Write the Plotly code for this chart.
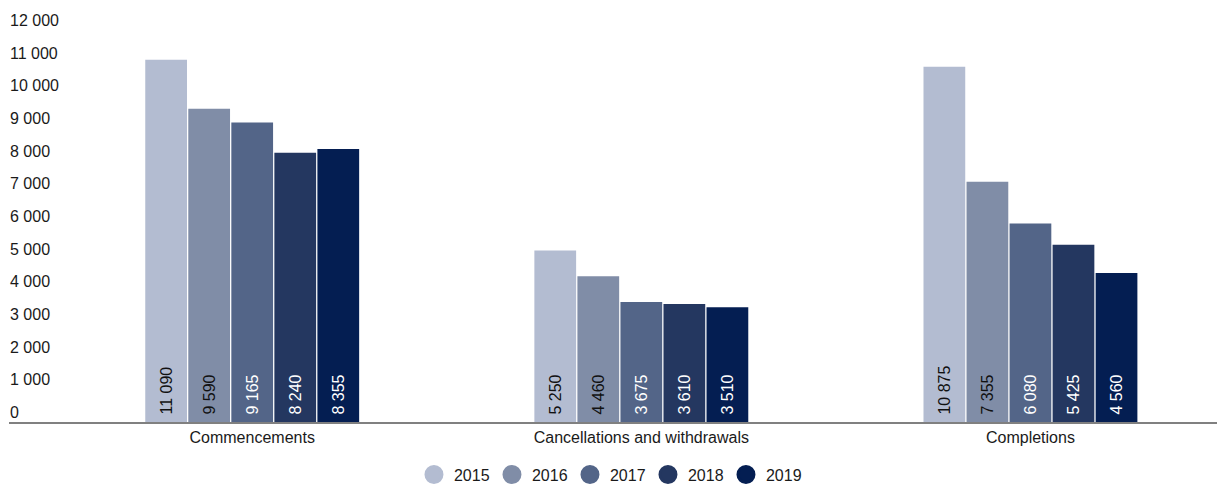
import plotly.graph_objects as go

categories = ["Commencements", "Cancellations and withdrawals", "Completions"]
years = ["2015", "2016", "2017", "2018", "2019"]
v2015 = [11090, 5250, 10875]
v2016 = [9590, 4460, 7355]
v2017 = [9165, 3675, 6080]
v2018 = [8240, 3610, 5425]
v2019 = [8355, 3510, 4560]
series = [v2015, v2016, v2017, v2018, v2019]
y_ticks = [0, 1000, 2000, 3000, 4000, 5000, 6000, 7000, 8000, 9000, 10000, 11000, 12000]
colors = ["#b3bcd1", "#808da7", "#536588", "#243760", "#041e52"]
label_colors = ["#111111", "#111111", "#ffffff", "#ffffff", "#ffffff"]

FONT = "Arial, Liberation Sans, sans-serif"
TXT = "#1a1a1a"

fig = go.Figure()
for yr, vals, c, lc in zip(years, series, colors, label_colors):
    fig.add_trace(go.Bar(
        x=categories, y=vals, name=yr, marker=dict(color=c, line=dict(width=0)),
        texttemplate="\u00a0%{y:,}", textposition="inside",
        insidetextanchor="start", textangle=-90,
        insidetextfont=dict(color=lc, size=16, family=FONT),
        showlegend=False, hoverinfo="skip",
    ))
for yr, c in zip(years, colors):
    fig.add_trace(go.Scatter(
        x=[None], y=[None], mode="markers", name=yr,
        marker=dict(color=c, size=16, symbol="circle", line=dict(color=c, width=3)),
        showlegend=True,
    ))

annotations = []
for t in y_ticks:
    annotations.append(dict(
        xref="paper", yref="y", x=0, y=t, xanchor="left", yanchor="bottom",
        text=f"{t:,}".replace(",", " "), showarrow=False,
        font=dict(size=16, color=TXT, family=FONT), borderpad=0,
    ))

fig.update_layout(
    width=1217, height=476,
    margin=dict(l=1, r=0, t=22, b=61.5, autoexpand=False),
    paper_bgcolor="white", plot_bgcolor="white",
    separators=". ",
    barmode="group", bargap=0.447, bargroupgap=0.03,
    uniformtext=dict(minsize=16, mode="show"),
    font=dict(family=FONT, size=16, color=TXT),
    annotations=annotations,
    legend=dict(orientation="h", x=0.4934, xanchor="center", y=-0.134, yanchor="middle",
                font=dict(size=16, color=TXT), itemsizing="trace",
                itemwidth=30, tracegroupgap=0, entrywidth=33),
    xaxis=dict(type="category", range=[-0.625, 2.5], showline=True, linecolor="#808080",
               linewidth=2, ticks="", showgrid=False, automargin=False,
               tickfont=dict(size=16, color=TXT)),
    yaxis=dict(range=[0, 12000], showticklabels=False, showgrid=False, zeroline=False,
               showline=False, automargin=False),
)
fig.write_html("out.html")
